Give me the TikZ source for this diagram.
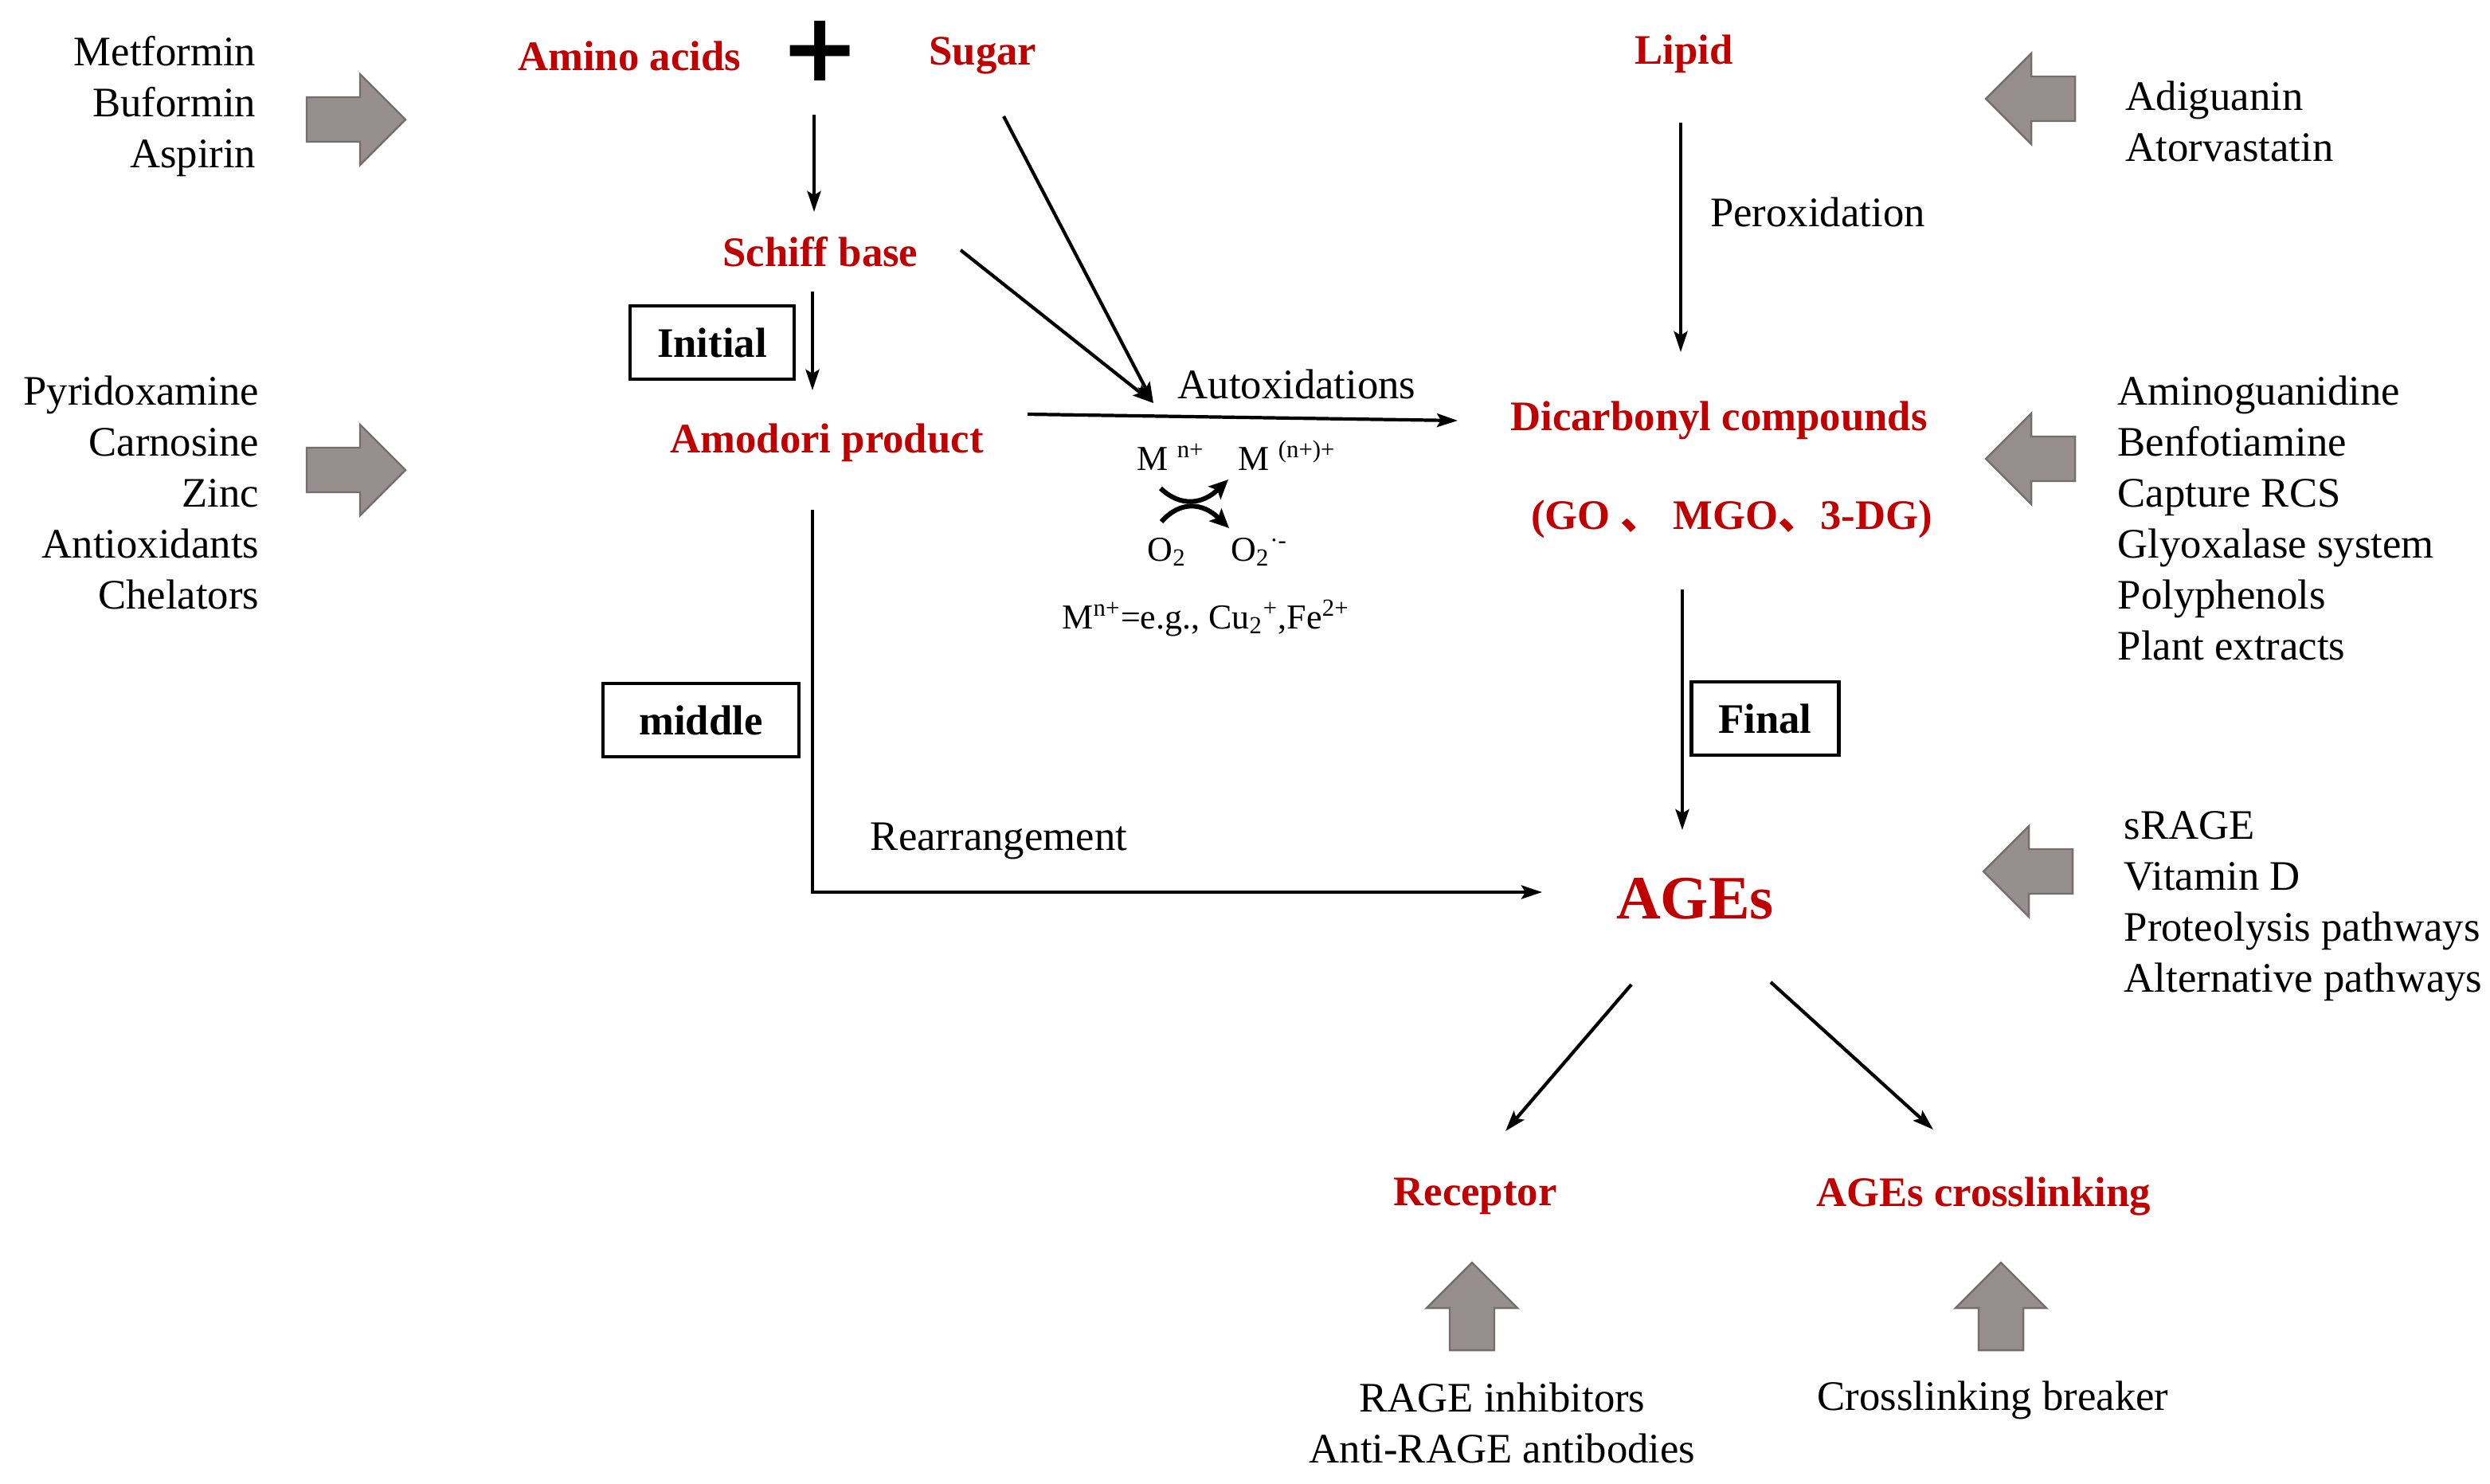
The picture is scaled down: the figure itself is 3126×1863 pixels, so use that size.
\documentclass[tikz,border=0pt]{standalone}
\usepackage{fontspec}
\setmainfont{Liberation Serif}
\newfontfamily\cjkfont{Noto Sans CJK SC}
\newfontfamily\symbfont{DejaVu Sans}
\usetikzlibrary{arrows.meta}
\definecolor{agered}{RGB}{192,0,0}
\definecolor{blockfill}{RGB}{151,143,143}
\definecolor{blockline}{RGB}{118,110,110}
\tikzset{
  txt/.style={inner sep=0pt, font=\fontsize{15}{18.2}\selectfont},
  compound/.style={txt, text=agered, font=\fontsize{15}{18.2}\selectfont\bfseries},
  stagebox/.style={txt, draw, line width=1.3pt, font=\fontsize{15}{18.2}\selectfont\bfseries,
    minimum height=0.92cm, inner xsep=0.34cm},
  ion/.style={inner sep=0pt, font=\fontsize{12.5}{15}\selectfont},
  flow/.style={-{Stealth[length=0.26cm,width=0.17cm,inset=0.05cm]}, line width=1.2pt},
  curl/.style={-{Stealth[length=0.24cm,width=0.22cm,inset=0.05cm]}, line width=1.7pt},
  pics/drugarrow/.style={code={
    \draw[blockline, fill=blockfill, line width=0.7pt]
      (-#1,-28) -- (#1-57,-28) -- (#1-57,-57) -- (#1,0) -- (#1-57,57)
      -- (#1-57,28) -- (-#1,28) -- cycle;
  }},
}
\begin{document}
\begin{tikzpicture}[x=0.01cm, y=-0.01cm]
\useasboundingbox (0,0) rectangle (3126,1863);

% inhibitor lists and block arrows
\node[txt, align=right, anchor=east] (earlydrugs) at (322,134) {Metformin\\Buformin\\Aspirin};
\pic (arrowearly) at (447,150) {drugarrow=62};
\node[txt, align=right, anchor=east] (amadoridrugs) at (326,618) {Pyridoxamine\\Carnosine\\Zinc\\Antioxidants\\Chelators};
\pic (arrowamadori) at (447,590) {drugarrow=62};

\node[txt, align=left, anchor=west] (lipiddrugs) at (2668,152) {Adiguanin\\Atorvastatin};
\pic[rotate=180] (arrowlipid) at (2549,124) {drugarrow=56};
\node[txt, align=left, anchor=west] (rcsdrugs) at (2658,650) {Aminoguanidine\\Benfotiamine\\Capture RCS\\Glyoxalase system\\Polyphenols\\Plant extracts};
\pic[rotate=180] (arrowrcs) at (2549,576) {drugarrow=56};
\node[txt, align=left, anchor=west] (agedrugs) at (2666,1138) {sRAGE\\Vitamin D\\Proteolysis pathways\\Alternative pathways};
\pic[rotate=180] (arrowage) at (2546,1094) {drugarrow=56};

\node[txt, align=center] (ragedrugs) at (1886,1786) {RAGE inhibitors\\Anti-RAGE antibodies};
\pic[rotate=90] (arrowrage) at (1848,1640) {drugarrow=55};
\node[txt] (breaker) at (2502,1758) {Crosslinking breaker};
\pic[rotate=90] (arrowbreaker) at (2512,1640) {drugarrow=55};

% compounds
\node[compound] (amino) at (790,70) {Amino acids};
\node[inner sep=0pt, font=\fontsize{34}{34}\selectfont\symbfont\bfseries] (plus) at (1030,64) {+};
\node[compound] (sugar) at (1234,70) {Sugar};
\node[compound] (lipid) at (2114,68) {Lipid};
\node[compound] (schiff) at (1030,316) {Schiff base};
\node[compound] (amodori) at (1038,556) {Amodori product};
\node[compound] (dicarb) at (2158,528) {Dicarbonyl compounds};
\node[compound] (go) at (2174,652) {(GO {\cjkfont 、} MGO{\cjkfont 、}3-DG)};
\node[compound, font=\fontsize{22}{26}\selectfont\bfseries] (ages) at (2128,1128) {AGEs};
\node[compound] (receptor) at (1852,1502) {Receptor};
\node[compound] (crosslink) at (2490,1502) {AGEs crosslinking};

% stages
\node[stagebox] (initial) at (894,430) {Initial};
\node[stagebox, minimum width=2.46cm] (middle) at (880,904) {middle};
\node[stagebox] (final) at (2216,902) {Final};

% arrow labels
\node[txt] (autox) at (1628,482) {Autoxidations};
\node[txt] (perox) at (2282,266) {Peroxidation};
\node[txt] (rearr) at (1254,1056) {Rearrangement};

% metal catalysed oxidation
\node[ion, anchor=base] (mion) at (1470,590) {M \textsuperscript{n+}};
\node[ion, anchor=base] (mionox) at (1616,590) {M \textsuperscript{(n+)+}};
\node[ion, anchor=base] (oxy) at (1465,704) {O\textsubscript{2}};
\node[ion, anchor=base] (oxyrad) at (1581,704) {O\textsubscript{2}\textsuperscript{·-}};
\node[ion] (ionnote) at (1514,776) {M\textsuperscript{n+}=e.g., Cu\textsubscript{2}\textsuperscript{+},Fe\textsuperscript{2+}};
\draw[curl] ([shift={(-13,23)}]mion.base) .. controls +(25,24) and +(-32,31) .. ([shift={(-74,12)}]mionox.base);
\draw[curl] ([shift={(-7,-49)}]oxy.base) .. controls +(24,-27) and +(-33,-32) .. ([shift={(-38,-41)}]oxyrad.base);

% connectors
\coordinate (meet) at (1448,506);
\draw[flow] ([shift={(-8,80)}]plus.center) -- ([shift={(-8,-50)}]schiff.center);
\draw[flow] ([shift={(-10,50)}]schiff.center) -- ([shift={(-18,-66)}]amodori.center);
\draw[flow] ([shift={(26,76)}]sugar.center) -- (meet);
\draw[flow] ([shift={(176,-2)}]schiff.center) -- (meet);
\draw[flow] ([shift={(252,-36)}]amodori.center) -- ([shift={(-328,0)}]dicarb.center);
\draw[flow] ([shift={(-4,86)}]lipid.center) -- ([shift={(-48,-86)}]dicarb.center);
\draw[flow] ([shift={(-62,88)}]go.center) -- ([shift={(-16,-86)}]ages.center);
\draw[flow] ([shift={(-18,84)}]amodori.center) |- ([shift={(-192,-8)}]ages.center);
\draw[flow] ([shift={(-80,108)}]ages.center) -- ([shift={(38,-82)}]receptor.center);
\draw[flow] ([shift={(95,105)}]ages.center) -- ([shift={(-63,-84)}]crosslink.center);
\end{tikzpicture}
\end{document}
